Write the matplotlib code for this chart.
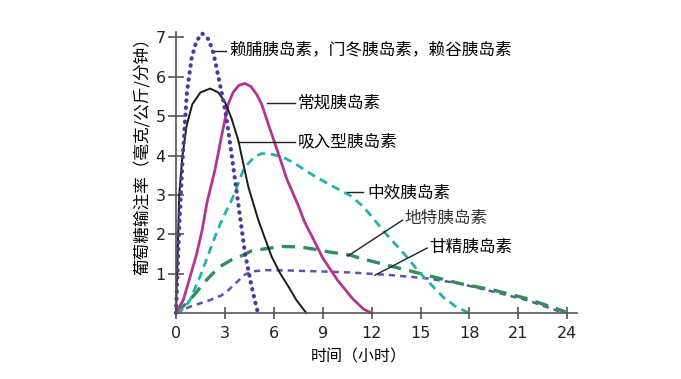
import matplotlib
matplotlib.use("Agg")
import matplotlib.pyplot as plt

plt.rcParams['font.family'] = ['Noto Sans CJK SC', 'DejaVu Sans']

# values (hours, glucose infusion rate)
lispro_x = [0, 0.08, 0.2, 0.41, 0.67, 0.96, 1.25, 1.6, 2.0, 2.3, 2.6, 2.85, 3.1, 3.42, 3.82, 4.23, 4.64, 4.85, 5.0, 5.05]
lispro_y = [0, 0.9, 2.2, 3.93, 5.6, 6.47, 6.9, 7.1, 6.95, 6.6, 6.0, 5.5, 4.95, 4.0, 2.78, 1.52, 0.67, 0.3, 0.05, 0]

inhaled_x = [0, 0.2, 0.4, 0.65, 1.0, 1.5, 2.1, 2.6, 3.0, 3.4, 3.82, 4.1, 4.44, 5.05, 5.5, 5.87, 6.4, 6.9, 7.4, 7.9, 8.0]
inhaled_y = [0, 3.0, 4.0, 4.75, 5.3, 5.6, 5.7, 5.6, 5.36, 4.95, 4.39, 3.85, 3.2, 2.36, 1.85, 1.43, 1.0, 0.67, 0.32, 0.05, 0]

regular_x = [0, 0.45, 0.85, 1.27, 1.6, 1.9, 2.4, 2.8, 3.2, 3.5, 3.85, 4.23, 4.6, 4.95, 5.26, 5.7, 6.28, 6.8,
             7.45, 7.9, 8.4, 9.0, 9.9, 10.8, 11.5, 12.0]
regular_y = [0, 0.33, 0.9, 1.5, 2.1, 2.8, 3.65, 4.5, 5.3, 5.6, 5.78, 5.83, 5.75, 5.55, 5.3, 4.75, 4.05, 3.4,
             2.78, 2.3, 1.9, 1.4, 0.84, 0.38, 0.1, 0]

nph_x = [0, 0.5, 0.86, 1.5, 2.09, 2.5, 2.9, 3.42, 3.82, 4.1, 4.44, 4.85, 5.26, 5.9, 6.5, 7.2, 7.9, 8.6,
         9.7, 10.7, 11.5, 12.2, 12.9, 14.0, 15.0, 15.7, 16.4, 17.2, 18.0]
nph_y = [0, 0.12, 0.33, 0.95, 1.6, 2.05, 2.44, 2.87, 3.29, 3.6, 3.8, 3.98, 4.05, 4.03, 3.97, 3.82, 3.63, 3.45,
         3.2, 2.98, 2.7, 2.35, 2.0, 1.5, 1.0, 0.7, 0.4, 0.15, 0]

detemir_x = [0, 0.65, 1.2, 1.67, 2.2, 2.7, 3.4, 4.13, 4.64, 5.77, 6.5, 7.6, 8.5, 9.25, 10.7, 11.3, 13.3,
             15.4, 17.4, 19.5, 21.5, 23.9]
detemir_y = [0, 0.25, 0.5, 0.75, 0.98, 1.18, 1.35, 1.47, 1.58, 1.65, 1.69, 1.68, 1.62, 1.56, 1.47, 1.39, 1.18,
             0.96, 0.75, 0.58, 0.37, 0.03]

glargine_x = [0, 0.86, 2.09, 2.8, 3.21, 3.72, 4.23, 4.74, 5.5, 7.0, 8.6, 10.7, 13.3, 15.4, 17.4, 19.5, 21.5, 23.6]
glargine_y = [0, 0.16, 0.33, 0.45, 0.58, 0.78, 0.98, 1.06, 1.09, 1.08, 1.06, 1.03, 0.96, 0.88, 0.75, 0.54, 0.33, 0.03]

x_ticks = [0, 3, 6, 9, 12, 15, 18, 21, 24]
y_ticks = [1, 2, 3, 4, 5, 6, 7]

fig = plt.figure(figsize=(6.81, 3.79), dpi=100)
ax = fig.add_axes([0.2584, 0.174, 0.589, 0.741])

ax.plot(glargine_x, glargine_y, color='#5a57ad', lw=1.8, ls=(0, (2.5, 2)), clip_on=False)
ax.plot(detemir_x, detemir_y, color='#2f8f5c', lw=2.4, ls=(0, (4, 2.5)), clip_on=False)
ax.plot(nph_x, nph_y, color='#22b2ad', lw=2.0, ls=(0, (3, 2)), clip_on=False)
ax.plot(regular_x, regular_y, color='#b4358f', lw=2.0, clip_on=False)
ax.plot(inhaled_x, inhaled_y, color='#1a1a1a', lw=1.4, clip_on=False)
ax.plot(lispro_x, lispro_y, color='#463c9e', lw=3.0, ls=(0, (0.1, 1.6)),
        dash_capstyle='round', clip_on=False)

ax.set_xlim(0, 24.6)
ax.set_ylim(0, 7.13)
ax.set_xticks(x_ticks)
ax.set_yticks(y_ticks)
for s in ['top', 'right']:
    ax.spines[s].set_visible(False)
for s in ['left', 'bottom']:
    ax.spines[s].set_color('#555555')
    ax.spines[s].set_linewidth(1.2)
ax.tick_params(axis='x', direction='inout', length=8, width=1.2, color='#555555',
               labelsize=11.5, pad=5, labelcolor='#222222')
ax.tick_params(axis='y', direction='inout', length=11, width=1.2, color='#555555',
               labelsize=11.5, pad=2, labelcolor='#222222')
for lab in ax.get_xticklabels() + ax.get_yticklabels():
    lab.set_family('DejaVu Sans')

ax.set_xlabel('时间（小时）', fontsize=11.5)
ax.set_ylabel('葡萄糖输注率（毫克/公斤/分钟）', fontsize=12)
ax.xaxis.set_label_coords(0.455, -0.125)
ax.yaxis.set_label_coords(-0.062, 0.573)

fs = 12
lc = '#222222'
# leader lines + labels
ax.plot([2.39, 3.05], [6.65, 6.65], color=lc, lw=1.0, clip_on=False)
ax.text(3.25, 6.68, '赖脯胰岛素，门冬胰岛素，赖谷胰岛素', fontsize=fs, va='center', ha='left')

ax.plot([5.58, 7.3], [5.33, 5.33], color=lc, lw=1.0)
ax.text(7.45, 5.33, '常规胰岛素', fontsize=fs, va='center', ha='left')

ax.plot([3.8, 7.3], [4.34, 4.34], color=lc, lw=1.0)
ax.text(7.45, 4.34, '吸入型胰岛素', fontsize=fs, va='center', ha='left')

ax.plot([10.5, 11.5], [3.08, 3.08], color=lc, lw=1.0)
ax.text(11.75, 3.05, '中效胰岛素', fontsize=fs, va='center', ha='left')

ax.plot([10.55, 13.9], [1.45, 2.36], color=lc, lw=1.0)
ax.text(14.0, 2.41, '地特胰岛素', fontsize=fs, va='center', ha='left', color='#333333')

ax.plot([12.2, 15.4], [0.96, 1.65], color=lc, lw=1.0)
ax.text(15.55, 1.68, '甘精胰岛素', fontsize=fs, va='center', ha='left')

fig.savefig('out.png', dpi=100)
